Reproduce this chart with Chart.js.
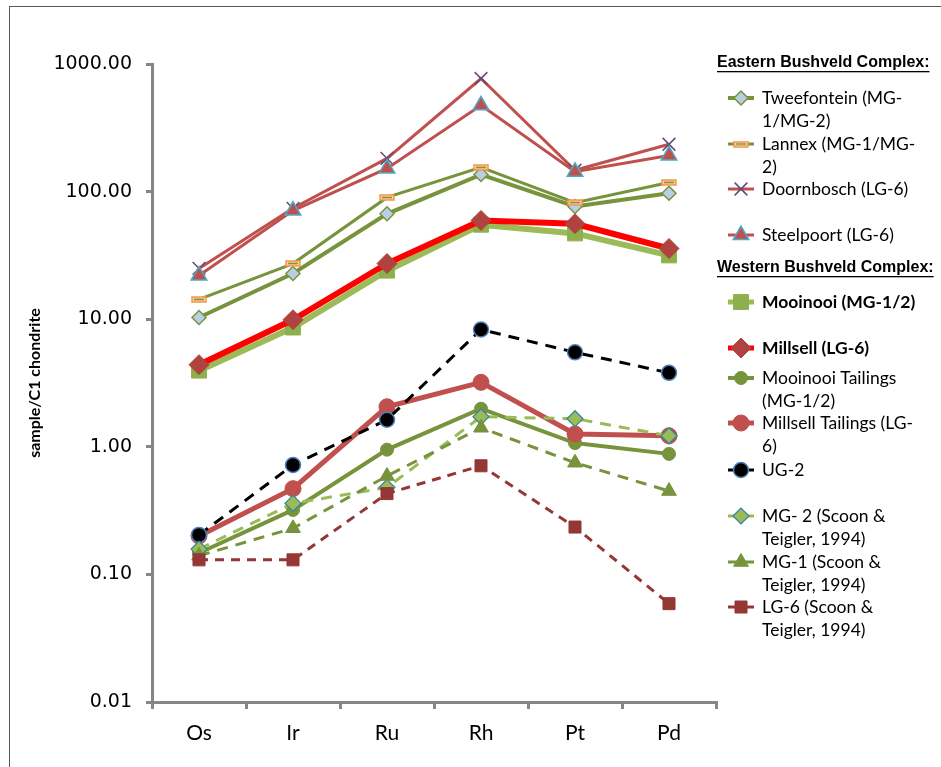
<!DOCTYPE html>
<html>
<head>
<meta charset="utf-8">
<script src="https://cdn.jsdelivr.net/npm/chart.js@4/dist/chart.umd.min.js"></script>
<style>
  html, body { margin: 0; padding: 0; background: #fff; }
  #wrap { width: 941px; height: 767px; position: relative; }
</style>
</head>
<body>
<div id="wrap"><canvas id="c" width="941" height="767"></canvas></div>
<script>
// PGE abundances normalised to C1 chondrite
const elements = ['Os', 'Ir', 'Ru', 'Rh', 'Pt', 'Pd'];
const yTickValues = [0.01, 0.1, 1, 10, 100, 1000];

// Eastern Bushveld Complex
const tweefontein = [10.3, 22.8, 67, 136, 76.5, 97];
const lannex = [14.3, 27.3, 90, 155, 82, 118];
const doornbosch = [25, 74, 182, 770, 147, 235];
const steelpoort = [22, 71, 152, 475, 143, 192];

// Western Bushveld Complex
const mooinooi = [3.95, 8.6, 24, 55, 47, 31.6];
const millsell = [4.4, 9.9, 27.3, 59.4, 56, 35.8];
const mooinooiTailings = [0.147, 0.32, 0.95, 1.99, 1.07, 0.88];
const millsellTailings = [0.2, 0.47, 2.06, 3.2, 1.26, 1.22];
const ug2 = [0.204, 0.72, 1.63, 8.3, 5.5, 3.8];
const mg2Scoon = [0.158, 0.36, 0.48, 1.72, 1.66, 1.22];
const mg1Scoon = [0.14, 0.23, 0.59, 1.41, 0.75, 0.45];
const lg6Scoon = [0.13, 0.13, 0.43, 0.71, 0.235, 0.059];

const seriesNames = [
  'Tweefontein (MG-1/MG-2)', 'Lannex (MG-1/MG-2)', 'Doornbosch (LG-6)', 'Steelpoort (LG-6)',
  'Mooinooi (MG-1/2)', 'Millsell (LG-6)', 'Mooinooi Tailings (MG-1/2)', 'Millsell Tailings (LG-6)',
  'UG-2', 'MG- 2 (Scoon & Teigler, 1994)', 'MG-1 (Scoon & Teigler, 1994)', 'LG-6 (Scoon & Teigler, 1994)'
];
// legend text, broken into lines
const legendText = [
  ['Tweefontein (MG-', '1/MG-2)'], ['Lannex (MG-1/MG-', '2)'], ['Doornbosch (LG-6)'], ['Steelpoort (LG-6)'],
  ['Mooinooi (MG-1/2)'], ['Millsell (LG-6)'], ['Mooinooi Tailings', '(MG-1/2)'], ['Millsell Tailings (LG-', '6)'],
  ['UG-2'], ['MG- 2 (Scoon &', 'Teigler, 1994)'], ['MG-1 (Scoon &', 'Teigler, 1994)'], ['LG-6 (Scoon &', 'Teigler, 1994)']
];
const legendBold = [false, false, false, false, true, true, false, false, false, false, false, false];
const legendRowY = [98, 144, 189, 235, 302, 348, 378, 423, 470, 516, 562, 607];

// small bar-shaped marker for the Lannex series
function barMarker() {
  const c = document.createElement('canvas');
  c.width = 16; c.height = 7;
  const g = c.getContext('2d');
  g.fillStyle = '#FBCFA8';
  g.fillRect(1, 1, 14, 5);
  g.strokeStyle = '#F79646';
  g.lineWidth = 1.5;
  g.strokeRect(1, 1, 14, 5);
  g.strokeStyle = '#77933C';
  g.lineWidth = 1.5;
  g.beginPath(); g.moveTo(3, 3.5); g.lineTo(13, 3.5); g.stroke();
  return c;
}

function series(label, data, o) {
  return Object.assign({
    label, data, fill: false, tension: 0,
    borderDash: [], pointBorderWidth: 1
  }, o);
}

const datasets = [
  series(seriesNames[0], tweefontein, { borderColor: '#77933C', borderWidth: 4, pointStyle: 'rectRot', pointRadius: 7, pointBackgroundColor: '#B9CDE5', pointBorderColor: '#77933C', pointBorderWidth: 1.5 }),
  series(seriesNames[1], lannex, { borderColor: '#77933C', borderWidth: 3, pointStyle: barMarker(), pointRadius: 8, pointBackgroundColor: '#FBCFA8', pointBorderColor: '#F79646' }),
  series(seriesNames[2], doornbosch, { borderColor: '#C0504D', borderWidth: 3, pointStyle: 'crossRot', pointRadius: 9, pointBackgroundColor: '#604A7B', pointBorderColor: '#604A7B', pointBorderWidth: 1.5 }),
  series(seriesNames[3], steelpoort, { borderColor: '#C0504D', borderWidth: 3, pointStyle: 'triangle', pointRadius: 9, pointBackgroundColor: '#C0504D', pointBorderColor: '#4BACC6', pointBorderWidth: 1.5 }),
  series(seriesNames[4], mooinooi, { borderColor: '#9BBB59', borderWidth: 6, pointStyle: 'rect', pointRadius: 10.5, pointBackgroundColor: '#8DB04C', pointBorderColor: '#8DB04C' }),
  series(seriesNames[5], millsell, { borderColor: '#FF0000', borderWidth: 6, pointStyle: 'rectRot', pointRadius: 10, pointBackgroundColor: '#B0433F', pointBorderColor: '#B0433F' }),
  series(seriesNames[6], mooinooiTailings, { borderColor: '#77933C', borderWidth: 4, pointStyle: 'circle', pointRadius: 6.5, pointBackgroundColor: '#77933C', pointBorderColor: '#77933C' }),
  series(seriesNames[7], millsellTailings, { borderColor: '#C0504D', borderWidth: 5, pointStyle: 'circle', pointRadius: 8, pointBackgroundColor: '#C0504D', pointBorderColor: '#C0504D' }),
  series(seriesNames[8], ug2, { borderColor: '#000000', borderWidth: 3, borderDash: [11, 8], pointStyle: 'circle', pointRadius: 7.5, pointBackgroundColor: '#000000', pointBorderColor: '#4F81BD', pointBorderWidth: 1.5 }),
  series(seriesNames[9], mg2Scoon, { borderColor: '#9BBB59', borderWidth: 3, borderDash: [11, 8], pointStyle: 'rectRot', pointRadius: 8, pointBackgroundColor: '#9BBB59', pointBorderColor: '#31859C', pointBorderWidth: 1.2 }),
  series(seriesNames[10], mg1Scoon, { borderColor: '#77933C', borderWidth: 3, borderDash: [11, 8], pointStyle: 'triangle', pointRadius: 8.5, pointBackgroundColor: '#77933C', pointBorderColor: '#77933C' }),
  series(seriesNames[11], lg6Scoon, { borderColor: '#953735', borderWidth: 3, borderDash: [9, 7], pointStyle: 'rect', pointRadius: 8.5, pointBackgroundColor: '#953735', pointBorderColor: '#953735' })
];
// later series are painted over earlier ones
datasets.forEach((d, i) => { d.order = datasets.length - i; });

const framePlugin = {
  id: 'frame',
  beforeDraw(chart) {
    const ctx = chart.ctx;
    ctx.save();
    ctx.fillStyle = '#fff';
    ctx.fillRect(0, 0, chart.width, chart.height);
    ctx.strokeStyle = '#595959';
    ctx.lineWidth = 1;
    ctx.strokeRect(9.5, 6.5, chart.width + 20, chart.height + 20);
    ctx.restore();
  }
};

function drawMarker(ctx, ds, x, y) {
  ctx.fillStyle = ds.pointBackgroundColor;
  ctx.strokeStyle = ds.pointBorderColor;
  ctx.lineWidth = ds.pointBorderWidth;
  ctx.setLineDash([]);
  Chart.helpers.drawPoint(ctx, {
    pointStyle: ds.pointStyle, rotation: 0,
    radius: ds.pointRadius, borderWidth: ds.pointBorderWidth
  }, x, y);
}

const sideLegend = {
  id: 'sideLegend',
  afterDraw(chart) {
    const ctx = chart.ctx;
    ctx.save();
    const header = (text, y) => {
      ctx.font = 'bold 16px "Liberation Sans"';
      ctx.fillStyle = '#000';
      ctx.textAlign = 'left';
      ctx.textBaseline = 'middle';
      ctx.fillText(text, 717, y);
      const w = ctx.measureText(text).width;
      ctx.fillRect(717, y + 8, w, 1.3);
    };
    header('Eastern Bushveld Complex:', 63);
    header('Western Bushveld Complex:', 268);

    chart.data.datasets.forEach((ds, i) => {
      const y = legendRowY[i];
      ctx.strokeStyle = ds.borderColor;
      ctx.lineWidth = Math.min(ds.borderWidth, 5);
      ctx.setLineDash([]);
      ctx.beginPath();
      ctx.moveTo(728, y);
      ctx.lineTo(754, y);
      ctx.stroke();
      drawMarker(ctx, ds, 741, y);

      ctx.fillStyle = '#000';
      ctx.textAlign = 'left';
      ctx.textBaseline = 'middle';
      ctx.font = (legendBold[i] ? 'bold ' : '') + '17.5px Lato';
      legendText[i].forEach((line, k) => ctx.fillText(line, 762, y + k * 23));
    });
    ctx.restore();
  }
};

new Chart(document.getElementById('c'), {
  type: 'line',
  data: { labels: elements, datasets },
  plugins: [framePlugin, sideLegend],
  options: {
    responsive: false,
    animation: false,
    layout: { padding: { left: 0, top: 64, right: 225, bottom: 0 } },
    plugins: { legend: { display: false }, tooltip: { enabled: false } },
    scales: {
      x: {
        type: 'category',
        offset: true,
        grid: { offset: true, drawOnChartArea: false, drawTicks: true, tickLength: 7, color: '#868686', lineWidth: 3 },
        border: { display: true, color: '#868686', width: 3 },
        ticks: { font: { family: 'Lato', size: 21 }, color: '#000', padding: 12 },
        afterFit(s) { s.height = 65; }
      },
      y: {
        type: 'logarithmic',
        min: 0.01,
        max: 1000,
        afterBuildTicks(s) { s.ticks = yTickValues.map(v => ({ value: v })); },
        ticks: {
          autoSkip: false,
          callback: v => Number(v).toFixed(2),
          font: { family: 'DejaVu Sans', size: 19 },
          color: '#000',
          padding: 14
        },
        grid: { drawOnChartArea: false, drawTicks: true, tickLength: 6, color: '#868686', lineWidth: 3 },
        border: { display: true, color: '#868686', width: 3 },
        title: {
          display: true,
          text: 'sample/C1 chondrite',
          font: { family: 'Lato', size: 16, weight: 'bold' },
          color: '#000',
          padding: { top: 25, bottom: 0 }
        },
        afterFit(s) { s.width = 152; }
      }
    }
  }
});
</script>
</body>
</html>
